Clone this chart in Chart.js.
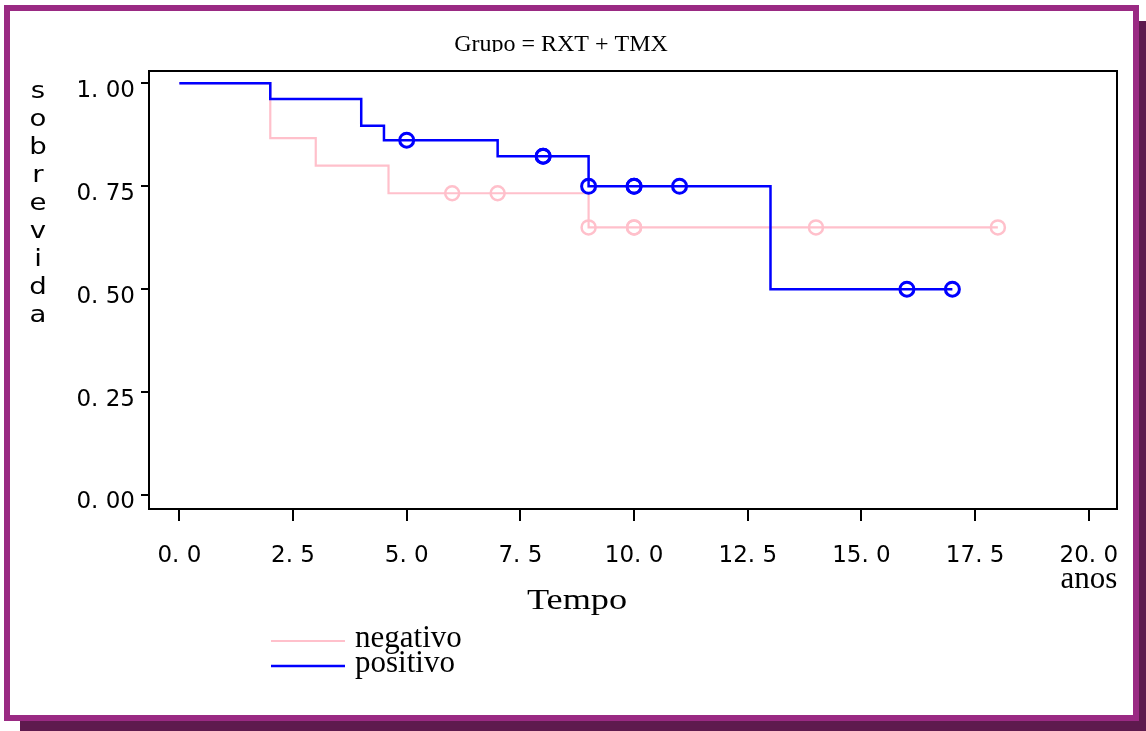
<!DOCTYPE html>
<html>
<head>
<meta charset="utf-8">
<script src="https://cdn.jsdelivr.net/npm/chart.js@4.4.1/dist/chart.umd.min.js"></script>
<style>
html, body { margin: 0; padding: 0; background: #fff; overflow: hidden; }
#frame {
    position: absolute; left: 4px; top: 5px;
    width: 1123px; height: 704px;
    border: 6px solid #9a2a83;
    box-shadow: 16px 16px 0 #5e1a4e;
    background: #fff;
}
#km { position: absolute; left: 0; top: 0; }
</style>
</head>
<body>
<div id="frame"></div>
<canvas id="km" width="1146" height="731"></canvas>
<script>
const chartTitle = "Grupo = RXT + TMX";
const yTitle = "sobrevida";
const xTitle = "Tempo";
const xUnit = "anos";
const groups = ["negativo", "positivo"];
const groupColors = ["#ffc0cb", "#0000ff"];

const xTicks = [0, 2.5, 5, 7.5, 10, 12.5, 15, 17.5, 20];
const xTickLabels = ["0. 0", "2. 5", "5. 0", "7. 5", "10. 0", "12. 5", "15. 0", "17. 5", "20. 0"];
const yTicks = [0, 0.25, 0.5, 0.75, 1];
const yTickLabels = ["0. 00", "0. 25", "0. 50", "0. 75", "1. 00"];

// step curves: time and survival after the step
const negTime = [0, 2, 3, 4.6, 9, 18];
const negSurv = [1, 0.867, 0.8, 0.733, 0.65, 0.65];
const posTime = [0, 2, 4, 4.5, 7, 9, 13, 17];
const posSurv = [1, 0.962, 0.897, 0.862, 0.823, 0.75, 0.5, 0.5];

// censored observations
const negCensTime = [6, 7, 9, 10, 10, 14, 18];
const negCensSurv = [0.733, 0.733, 0.65, 0.65, 0.65, 0.65, 0.65];
const posCensTime = [5, 8, 8, 9, 10, 10, 11, 16, 17];
const posCensSurv = [0.862, 0.823, 0.823, 0.75, 0.75, 0.75, 0.75, 0.5, 0.5];

const pts = (xs, ys) => xs.map((v, i) => ({ x: v, y: ys[i] }));

const extras = {
    id: 'extras',
    beforeDatasetsDraw(chart) {
        // the original title has its descenders cut off
        const t = chart.titleBlock;
        if (!t) return;
        chart.ctx.save();
        chart.ctx.fillStyle = '#fff';
        chart.ctx.fillRect(t.left + 10, 52, t.width - 20, chart.chartArea.top - 53);
        chart.ctx.restore();
    },
    afterDraw(chart) {
        const { ctx, chartArea: a, scales: { x, y } } = chart;
        ctx.save();
        // rest of the box
        ctx.strokeStyle = '#000';
        ctx.lineWidth = 2;
        ctx.beginPath();
        ctx.moveTo(a.left, a.top);
        ctx.lineTo(a.right, a.top);
        ctx.lineTo(a.right, a.bottom);
        ctx.stroke();

        ctx.fillStyle = '#000';
        ctx.textAlign = 'center';
        ctx.textBaseline = 'alphabetic';
        // vertical y title, one letter per line
        const y0 = y.getPixelForValue(1) + 15;
        [...yTitle].forEach((c, i) => {
            ctx.save();
            ctx.translate(38, y0 + 28 * i);
            ctx.scale(1.2, 1);
            ctx.font = '23px "DejaVu Sans"';
            ctx.fillText(c, 0, 0);
            ctx.restore();
        });

        ctx.font = '31px "Liberation Serif"';
        ctx.fillText(xUnit, x.getPixelForValue(20), a.bottom + 79);

        ctx.save();
        ctx.translate(577, a.bottom + 100);
        ctx.scale(1.25, 1);
        ctx.font = '29px "Liberation Serif"';
        ctx.fillText(xTitle, 0, 0);
        ctx.restore();

        // legend
        ctx.textAlign = 'left';
        ctx.font = '31px "Liberation Serif"';
        groups.forEach((g, i) => {
            const ly = 641 + 25 * i;
            ctx.strokeStyle = groupColors[i];
            ctx.lineWidth = i ? 2.5 : 2;
            ctx.beginPath();
            ctx.moveTo(271, ly);
            ctx.lineTo(345, ly);
            ctx.stroke();
            ctx.fillText(g, 355, ly + 6);
        });
        ctx.restore();
    }
};

new Chart("km", {
    type: "scatter",
    data: {
        datasets: [
            {
                label: groups[1], data: pts(posTime, posSurv), showLine: true, stepped: true,
                borderColor: groupColors[1], borderWidth: 2.5, pointRadius: 0, order: 0
            },
            {
                label: groups[1] + " censurado", data: pts(posCensTime, posCensSurv), showLine: false,
                pointRadius: 7, pointBorderWidth: 3, pointBorderColor: groupColors[1],
                pointBackgroundColor: 'rgba(0,0,0,0)', order: 0
            },
            {
                label: groups[0], data: pts(negTime, negSurv), showLine: true, stepped: true,
                borderColor: groupColors[0], borderWidth: 2.2, pointRadius: 0, order: 1
            },
            {
                label: groups[0] + " censurado", data: pts(negCensTime, negCensSurv), showLine: false,
                pointRadius: 7, pointBorderWidth: 2.5, pointBorderColor: groupColors[0],
                pointBackgroundColor: 'rgba(0,0,0,0)', order: 1
            }
        ]
    },
    options: {
        responsive: false,
        animation: false,
        devicePixelRatio: 1,
        layout: { padding: { top: 30, left: 5, right: 29, bottom: 162 } },
        plugins: {
            legend: { display: false },
            tooltip: { enabled: false },
            title: {
                display: true,
                text: chartTitle,
                color: '#000',
                font: { family: 'Liberation Serif', size: 24, weight: 'normal' },
                padding: { top: 0, bottom: 12.2 }
            }
        },
        scales: {
            x: {
                type: 'linear',
                min: -0.667, max: 20.62,
                afterFit: (s) => { s.height = 60; },
                afterBuildTicks: (s) => { s.ticks = xTicks.map(v => ({ value: v })); },
                border: { display: true, color: '#000', width: 2 },
                grid: { drawOnChartArea: false, drawTicks: true, tickLength: 12, color: '#000', lineWidth: 2 },
                ticks: {
                    color: '#000', padding: 21, maxRotation: 0,
                    font: { family: 'DejaVu Sans', size: 23 },
                    callback: (v) => xTickLabels[xTicks.indexOf(v)]
                }
            },
            y: {
                type: 'linear',
                min: -0.034, max: 1.03,
                afterFit: (s) => { s.width = 144; },
                afterBuildTicks: (s) => { s.ticks = yTicks.map(v => ({ value: v })); },
                border: { display: true, color: '#000', width: 2 },
                grid: { drawOnChartArea: false, drawTicks: true, tickLength: 8, color: '#000', lineWidth: 2 },
                ticks: {
                    color: '#000', padding: 6, labelOffset: 7.5,
                    font: { family: 'DejaVu Sans', size: 23 },
                    callback: (v) => yTickLabels[yTicks.indexOf(v)]
                }
            }
        }
    },
    plugins: [extras]
});
</script>
</body>
</html>
